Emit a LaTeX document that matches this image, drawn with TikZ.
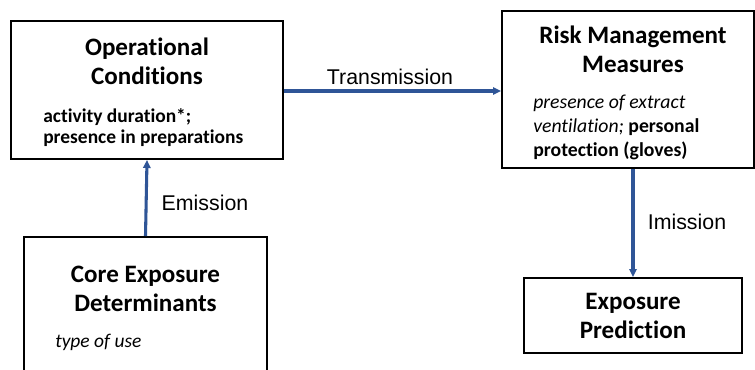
\documentclass[tikz,border=0pt]{standalone}
\usepackage{fontspec}
\setmainfont[Ligatures=NoCommon]{Carlito}
\newfontfamily\arialfont{Liberation Sans}
\usetikzlibrary{arrows.meta}
\definecolor{arrblue}{RGB}{47,85,151}
\begin{document}
\begin{tikzpicture}[x=0.75pt,y=-0.75pt,
  box/.style={draw=black, line width=1.5pt, fill=white, inner sep=0pt},
  title/.style={font=\fontsize{18.8}{21.75}\selectfont\bfseries, align=center, inner sep=0pt},
  body/.style={font=\fontsize{14.6}{16.5}\selectfont, align=left, inner sep=0pt, anchor=west},
  lbl/.style={font=\arialfont\fontsize{16}{18}\selectfont, inner sep=0pt},
  conn/.style={draw=arrblue, line width=2.3pt, -{Triangle[length=6pt,width=5.5pt]}}]
\useasboundingbox (0,0) rectangle (755,370);
\clip (0,0) rectangle (755,370);
\fill[white] (0,0) rectangle (755,370);
% boxes
\node[box, minimum width=204pt, minimum height=103.5pt] (oc) at (147,90) {};
\node[box, minimum width=189pt, minimum height=117.75pt] (rmm) at (628,89.5) {};
\node[box, minimum width=182.25pt, minimum height=107.25pt] (ced) at (145.5,308.5) {};
\node[box, minimum width=163.5pt, minimum height=56.25pt] (ep) at (633,315.5) {};
% texts
\node[title] (octitle) at (147,61.5) {Operational\\Conditions};
\node[body, font=\fontsize{14.6}{15.75}\selectfont\bfseries] (ocbody) at (43,127.5) {activity duration*;\\presence in preparations};
\node[title] (rmmtitle) at (633,49.5) {Risk Management\\Measures};
\node[body, font=\fontsize{14.8}{18}\selectfont] (rmmbody) at (533,127) {\textit{presence of extract}\\\textit{ventilation;} \textbf{personal}\\\textbf{protection (gloves)}};
\node[title] (cedtitle) at (145.5,289) {Core Exposure\\Determinants};
\node[body] (cedbody) at (55,342) {\textit{type of use}};
\node[title] (eptitle) at (633,316) {Exposure\\Prediction};
% connectors
\coordinate (tstart) at (oc.east |- 0,91);
\coordinate (tend) at (rmm.west |- 0,91);
\draw[conn] (tstart) -- (tend);
\node[lbl] (tlabel) at (390,77) {Transmission};
\draw[conn] (ced.north) -- (oc.south);
\node[lbl] (elabel) at (205,203) {Emission};
\coordinate (istart) at (633,168);
\draw[conn] (rmm.south -| istart) -- (ep.north);
\node[lbl] (ilabel) at (687,222) {Imission};
\end{tikzpicture}
\end{document}
